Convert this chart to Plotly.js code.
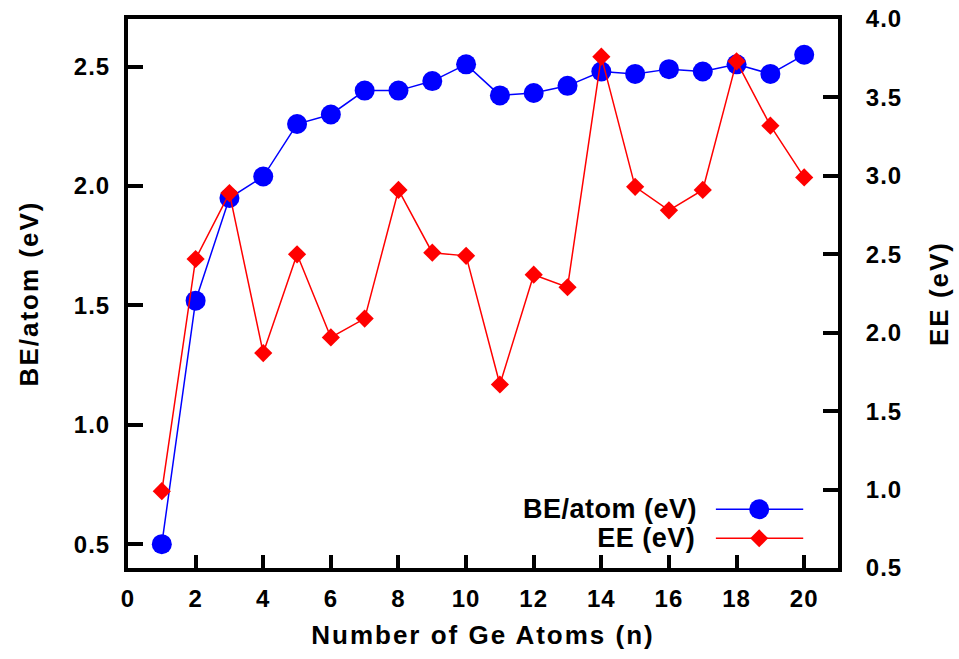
<!DOCTYPE html>
<html>
<head>
<meta charset="utf-8">
<script src="https://cdn.plot.ly/plotly-3.0.1.min.js"></script>
<style>
  html, body { margin: 0; padding: 0; background: #fff; }
  #chart { width: 959px; height: 659px; }
  /* slightly open letter spacing, like the PostScript Helvetica output */
  #chart .xtick text, #chart .ytick text, #chart .y2tick text { letter-spacing: 1px; }
  #chart .g-xtitle text, #chart .g-ytitle text, #chart .g-y2title text { letter-spacing: 2px; }
  #chart .annotation-text { letter-spacing: 0.5px; }
</style>
</head>
<body>
<div id="chart"></div>
<script>
// Cluster size n (number of Ge atoms)
const nAtoms = [1, 2, 3, 4, 5, 6, 7, 8, 9, 10, 11, 12, 13, 14, 15, 16, 17, 18, 19, 20];
// Binding energy per atom (eV), left axis
const beAtom = [0.50, 1.52, 1.95, 2.04, 2.26, 2.30, 2.40, 2.40, 2.44, 2.51,
                2.38, 2.39, 2.42, 2.48, 2.47, 2.49, 2.48, 2.51, 2.47, 2.55];
// Embedding energy (eV), right axis
const eeVals = [0.99, 2.47, 2.89, 1.87, 2.50, 1.97, 2.09, 2.91, 2.51, 2.49,
                1.67, 2.37, 2.29, 3.76, 2.93, 2.78, 2.91, 3.73, 3.32, 2.99];

const beName = 'BE/atom (eV)';
const eeName = 'EE (eV)';
const xTitle = 'Number of Ge Atoms (n)';

const FONT = 'Liberation Sans, Arial, Helvetica, sans-serif';
const BLUE = '#0000ff';
const RED = '#ff0000';

const traces = [
  {
    x: nAtoms, y: beAtom, name: beName, type: 'scatter', mode: 'lines+markers',
    line: { color: BLUE, width: 1.5 },
    marker: { color: BLUE, size: 20, symbol: 'circle' },
    xaxis: 'x', yaxis: 'y', showlegend: false
  },
  {
    x: nAtoms, y: eeVals, name: eeName, type: 'scatter', mode: 'lines+markers',
    line: { color: RED, width: 1.5 },
    marker: { color: RED, size: 14, symbol: 'diamond' },
    xaxis: 'x', yaxis: 'y2', showlegend: false
  }
];

const tickFont = { family: FONT, size: 24, color: '#000', weight: 'bold' };
const titleFont = { family: FONT, size: 26, color: '#000', weight: 'bold' };
const keyFont = { family: FONT, size: 27, color: '#000', weight: 'bold' };

// Key drawn inside the lower-right corner: label, then sample line with its marker
const keyRows = [
  { label: beName, color: BLUE, y: 0.107, shape: 'circle' },
  { label: eeName, color: RED, y: 0.054, shape: 'diamond' }
];
const keyLineX = [0.828, 0.951];
const keyMarkX = 0.889;
const keyTextX = 0.800;

const shapes = [];
const annotations = [];
keyRows.forEach(r => {
  shapes.push({
    type: 'line', xref: 'paper', yref: 'paper',
    x0: keyLineX[0], x1: keyLineX[1], y0: r.y, y1: r.y,
    line: { color: r.color, width: 1.5 }
  });
  if (r.shape === 'circle') {
    shapes.push({
      type: 'circle', xref: 'paper', yref: 'paper',
      xsizemode: 'pixel', ysizemode: 'pixel', xanchor: keyMarkX, yanchor: r.y,
      x0: -10, x1: 10, y0: -10, y1: 10,
      fillcolor: r.color, line: { width: 0 }
    });
  } else {
    shapes.push({
      type: 'path', xref: 'paper', yref: 'paper',
      xsizemode: 'pixel', ysizemode: 'pixel', xanchor: keyMarkX, yanchor: r.y,
      path: 'M -9 0 L 0 9 L 9 0 L 0 -9 Z',
      fillcolor: r.color, line: { width: 0 }
    });
  }
  annotations.push({
    xref: 'paper', yref: 'paper', x: keyTextX, y: r.y,
    xanchor: 'right', yanchor: 'middle', showarrow: false,
    text: r.label, font: keyFont
  });
});

const layout = {
  width: 959, height: 659,
  margin: { l: 128, r: 121, t: 19, b: 91 },
  paper_bgcolor: '#fff', plot_bgcolor: '#fff',
  showlegend: false,
  xaxis: {
    range: [0, 21], tick0: 0, dtick: 2,
    ticks: 'inside', ticklen: 13, tickwidth: 4, tickcolor: '#000',
    showline: true, linewidth: 4, linecolor: '#000', mirror: true,
    showgrid: false, zeroline: false,
    tickfont: tickFont, ticklabelstandoff: 6,
    title: { text: xTitle, font: titleFont, standoff: 16 }
  },
  yaxis: {
    range: [0.4, 2.7], tick0: 0.5, dtick: 0.5, tickformat: '.1f',
    ticks: 'inside', ticklen: 15, tickwidth: 4, tickcolor: '#000',
    showline: true, linewidth: 4, linecolor: '#000', mirror: true,
    showgrid: false, zeroline: false,
    tickfont: tickFont, ticklabelstandoff: 9,
    title: { text: beName, font: titleFont, standoff: 32 }
  },
  yaxis2: {
    overlaying: 'y', side: 'right',
    range: [0.5, 4.0], tick0: 0.5, dtick: 0.5, tickformat: '.1f',
    ticks: 'inside', ticklen: 15, tickwidth: 4, tickcolor: '#000',
    showline: true, linewidth: 4, linecolor: '#000',
    showgrid: false, zeroline: false,
    tickfont: tickFont, ticklabelstandoff: 19,
    title: { text: eeName, font: titleFont, standoff: 33 }
  },
  shapes: shapes,
  annotations: annotations
};

Plotly.newPlot('chart', traces, layout, { displayModeBar: false, staticPlot: true });
</script>
</body>
</html>
